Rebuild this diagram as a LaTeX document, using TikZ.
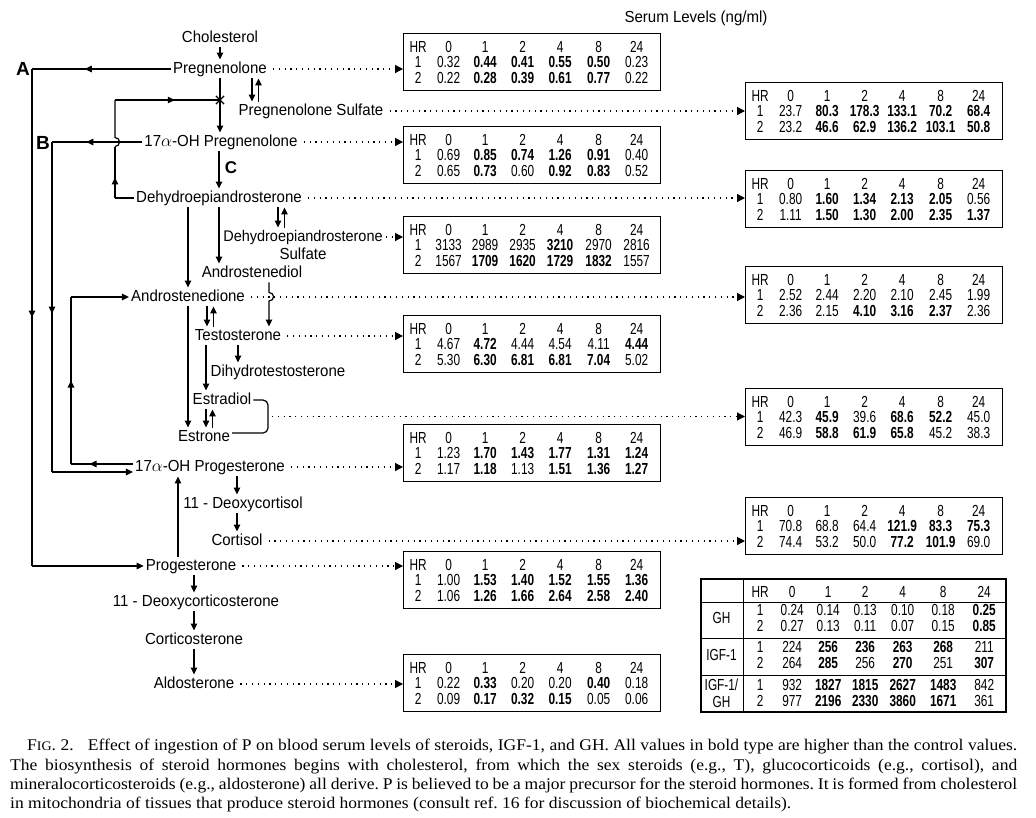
\documentclass[tikz,border=0pt]{standalone}
\usepackage{fontspec}
\setmainfont{Liberation Sans}
\newfontfamily\labfont[FakeStretch=0.94]{Liberation Sans}
\newfontfamily\tabfont[FakeStretch=0.74]{Liberation Sans}
\newfontfamily\capfont[FakeStretch=1.075]{Liberation Serif}
\usetikzlibrary{arrows.meta, calc, decorations.markings, shapes.misc}
\setlength{\parindent}{0pt}

% one row of a serum table: HR column + six sampling times
\newcommand{\trow}[7]{\makebox[26pt]{#1}\makebox[35pt]{#2}\makebox[38pt]{#3}\makebox[37pt]{#4}\makebox[38pt]{#5}\makebox[39pt]{#6}\makebox[37pt]{#7}}
\newcommand{\gtrow}[7]{\makebox[30pt]{#1}\makebox[34pt]{#2}\makebox[38pt]{#3}\makebox[36pt]{#4}\makebox[39pt]{#5}\makebox[42pt]{#6}\makebox[40pt]{#7}}
\newcommand{\hrhead}{\trow{HR}{0}{1}{2}{4}{8}{24}}
\newcommand{\bv}[1]{\textbf{#1}}

\tikzstyle{flow} = [line width=1.2pt, -{Triangle[length=7pt,width=6.5pt]}]
\tikzstyle{dotflow} = [line width=1.2pt, dash pattern=on 1.2pt off 4.6pt, -{Triangle[length=8pt,width=8pt]}, shorten <=4pt]
\tikzset{
  lab/.style={font=\labfont\fontsize{16}{18}\selectfont, inner sep=2pt, text height=11.5pt, text depth=3pt},
  serum/.style={draw, line width=1.3pt, anchor=north west, inner xsep=1.5pt, inner ysep=0pt,
    text width=254pt, minimum height=57pt, align=left, font=\tabfont\fontsize{16}{15.5}\selectfont},
  ghrow/.style={anchor=west, inner sep=0pt, align=left, font=\tabfont\fontsize{16}{15.5}\selectfont},
  ghlab/.style={inner sep=0pt, align=center, font=\tabfont\fontsize{16}{17}\selectfont},
  letter/.style={font=\bfseries\fontsize{19}{20}\selectfont},
  midarrow/.style={postaction={decorate}, decoration={markings,
    mark=at position #1 with {\arrow{Triangle[length=7pt,width=6.5pt]}}}},
}

\begin{document}
\begin{tikzpicture}[x=1pt, y=-1pt]
\useasboundingbox (0,0) rectangle (1036,817);
\fill[white] (0,0) rectangle (1036,817);

\node[lab] (title) at (696,18) {Serum Levels (ng/ml)};

% steroid pathway
\node[lab] (chol) at (220,38) {Cholesterol};
\node[lab] (preg) at (220,69) {Pregnenolone};
\node[lab] (pregs) at (311,111) {Pregnenolone Sulfate};
\node[lab] (ohpreg) at (221,142) {17$\alpha$-OH Pregnenolone};
\node[lab] (dhea) at (219,198) {Dehydroepiandrosterone};
\node[lab, font=\labfont\fontsize{15.4}{18}\selectfont] (dheas) at (303,237) {Dehydroepiandrosterone};
\node[lab] (dheassul) at (303,255) {Sulfate};
\node[lab] (adiol) at (252,273) {Androstenediol};
\node[lab] (adione) at (188,297) {Androstenedione};
\node[lab] (testo) at (238,336) {Testosterone};
\node[lab] (dht) at (278,372) {Dihydrotestosterone};
\node[lab] (e2) at (222,400) {Estradiol};
\node[lab] (e1) at (204,437) {Estrone};
\node[lab] (ohprog) at (210,467) {17$\alpha$-OH Progesterone};
\node[lab] (doc) at (243,504) {11 - Deoxycortisol};
\node[lab] (cort) at (237,541) {Cortisol};
\node[lab] (prog) at (191,566) {Progesterone};
\node[lab] (docs) at (196,602) {11 - Deoxycorticosterone};
\node[lab] (corts) at (194,640) {Corticosterone};
\node[lab] (aldo) at (194,684) {Aldosterone};

\node[letter] (labA) at (23,69) {A};
\node[letter] (labB) at (43,143) {B};
\node[font=\bfseries\fontsize{17}{18}\selectfont] (labC) at (231,168) {C};

\node[cross out, draw, line width=1.2pt, minimum size=7pt, inner sep=0pt] (xmark) at (220,100) {};

% main conversions
\draw[flow] (chol) -- (preg);
\draw[flow] (preg.south) -- (preg.south |- ohpreg.north);
\draw[flow] (ohpreg.south -| dhea.north) -- (dhea.north);
\draw[flow] (dhea.south -| adione.north) -- (adione.north);
\draw[flow] (dhea.south) -- (dhea.south |- adiol.north);
\draw[flow] (adione.south) -- (adione.south |- e1.north);
\draw[flow] (testo.south) -- (testo.south |- dht.north);
\draw[flow] ([xshift=-32pt]testo.south) -- ([xshift=-32pt]testo.south |- e2.north);
\draw[flow] (ohprog.south -| cort.north) -- (doc.north -| cort.north);
\draw[flow] (doc.south -| cort.north) -- (cort.north);
\draw[flow] ([xshift=-13pt]prog.north) -- ([xshift=-13pt]prog.north |- ohprog.south);
\draw[flow] (prog.south -| corts.north) -- (docs.north -| corts.north);
\draw[flow] (docs.south -| corts.north) -- (corts.north);
\draw[flow] (corts) -- (aldo);

% reversible steps
\foreach \a/\b/\s in {preg/pregs/32, dhea/dheas/59, adione/testo/19, e2/e1/-16}{
  \draw[flow] ([xshift=\s pt]\a.south) -- ([xshift=\s pt]\a.south |- \b.north);
  \draw[flow] ([xshift=\s pt+6.5pt]\a.south |- \b.north) -- ([xshift=\s pt+6.5pt]\a.south);
}

% androstenediol to testosterone, hopping the dotted line
\coordinate (hopx) at (269,0);
\draw[flow] (adiol.south -| hopx) -- (269,292.5) .. controls (275,292.5) and (275,301) .. (269,301) -- (testo.north -| hopx);

% feedback from DHEA
\coordinate (fb1) at (115,198);
\coordinate (fb2) at (115,100);
\draw[line width=1.2pt] (dhea.west) -- (fb1);
\draw[line width=1.2pt, midarrow=0.4] (fb1) -- (115,146.5);
\draw[line width=1.2pt] (115,146.5) .. controls (121,146.5) and (121,137.5) .. (115,137.5) -- (fb2);
\draw[line width=1.2pt, midarrow=0.57] (fb2) -- (xmark.center);

% A: pregnenolone to progesterone
\coordinate (A1) at (32,69);
\coordinate (A2) at (32,566);
\draw[line width=1.2pt, midarrow=0.62] (preg.west) -- (A1);
\draw[line width=1.2pt, midarrow=0.5] (A1) -- (A2);
\draw[flow] (A2) -- (prog.west);

% B: 17a-OH pregnenolone to 17a-OH progesterone
\coordinate (B1) at (52,142);
\coordinate (B2) at (52,472);
\draw[line width=1.2pt, midarrow=0.62] (ohpreg.west) -- (B1);
\draw[line width=1.2pt, midarrow=0.52] (B1) -- (B2);
\draw[flow] (B2) -- ([yshift=-5pt]ohprog.west);

% 17a-OH progesterone to androstenedione
\coordinate (D1) at (71,464);
\coordinate (D2) at (71,297);
\draw[line width=1.2pt, midarrow=0.7] ([yshift=3pt]ohprog.west) -- (D1);
\draw[line width=1.2pt, midarrow=0.5] (D1) -- (D2);
\draw[flow] (D2) -- (adione.west);

% estrogen bracket
\coordinate (brk) at (268,416.5);
\draw[line width=1.2pt, rounded corners=5pt] (e2.east) -- (268,400) -- (268,433) -- ([yshift=4pt]e1.east);

% serum tables
\node[serum] (tpreg) at (403,33) {\hrhead\\
  \trow{1}{0.32}{\bv{0.44}}{\bv{0.41}}{\bv{0.55}}{\bv{0.50}}{0.23}\\
  \trow{2}{0.22}{\bv{0.28}}{\bv{0.39}}{\bv{0.61}}{\bv{0.77}}{0.22}};
\node[serum] (tohpreg) at (403,126) {\hrhead\\
  \trow{1}{0.69}{\bv{0.85}}{\bv{0.74}}{\bv{1.26}}{\bv{0.91}}{0.40}\\
  \trow{2}{0.65}{\bv{0.73}}{0.60}{\bv{0.92}}{\bv{0.83}}{0.52}};
\node[serum] (tdheas) at (403,216) {\hrhead\\
  \trow{1}{3133}{2989}{2935}{\bv{3210}}{2970}{2816}\\
  \trow{2}{1567}{\bv{1709}}{\bv{1620}}{\bv{1729}}{\bv{1832}}{1557}};
\node[serum] (ttesto) at (403,315) {\hrhead\\
  \trow{1}{4.67}{\bv{4.72}}{4.44}{4.54}{4.11}{\bv{4.44}}\\
  \trow{2}{5.30}{\bv{6.30}}{\bv{6.81}}{\bv{6.81}}{\bv{7.04}}{5.02}};
\node[serum] (tohprog) at (403,424) {\hrhead\\
  \trow{1}{1.23}{\bv{1.70}}{\bv{1.43}}{\bv{1.77}}{\bv{1.31}}{\bv{1.24}}\\
  \trow{2}{1.17}{\bv{1.18}}{1.13}{\bv{1.51}}{\bv{1.36}}{\bv{1.27}}};
\node[serum] (tprog) at (403,551) {\hrhead\\
  \trow{1}{1.00}{\bv{1.53}}{\bv{1.40}}{\bv{1.52}}{\bv{1.55}}{\bv{1.36}}\\
  \trow{2}{1.06}{\bv{1.26}}{\bv{1.66}}{\bv{2.64}}{\bv{2.58}}{\bv{2.40}}};
\node[serum] (taldo) at (403,654) {\hrhead\\
  \trow{1}{0.22}{\bv{0.33}}{0.20}{0.20}{\bv{0.40}}{0.18}\\
  \trow{2}{0.09}{\bv{0.17}}{\bv{0.32}}{\bv{0.15}}{0.05}{0.06}};
\node[serum] (tpregs) at (745,82) {\hrhead\\
  \trow{1}{23.7}{\bv{80.3}}{\bv{178.3}}{\bv{133.1}}{\bv{70.2}}{\bv{68.4}}\\
  \trow{2}{23.2}{\bv{46.6}}{\bv{62.9}}{\bv{136.2}}{\bv{103.1}}{\bv{50.8}}};
\node[serum] (tdhea) at (745,170) {\hrhead\\
  \trow{1}{0.80}{\bv{1.60}}{\bv{1.34}}{\bv{2.13}}{\bv{2.05}}{0.56}\\
  \trow{2}{1.11}{\bv{1.50}}{\bv{1.30}}{\bv{2.00}}{\bv{2.35}}{\bv{1.37}}};
\node[serum] (tadione) at (745,266) {\hrhead\\
  \trow{1}{2.52}{2.44}{2.20}{2.10}{2.45}{1.99}\\
  \trow{2}{2.36}{2.15}{\bv{4.10}}{\bv{3.16}}{\bv{2.37}}{2.36}};
\node[serum] (te) at (745,388) {\hrhead\\
  \trow{1}{42.3}{\bv{45.9}}{39.6}{\bv{68.6}}{\bv{52.2}}{45.0}\\
  \trow{2}{46.9}{\bv{58.8}}{\bv{61.9}}{\bv{65.8}}{45.2}{38.3}};
\node[serum] (tcort) at (745,497) {\hrhead\\
  \trow{1}{70.8}{68.8}{64.4}{\bv{121.9}}{\bv{83.3}}{\bv{75.3}}\\
  \trow{2}{74.4}{53.2}{50.0}{\bv{77.2}}{\bv{101.9}}{69.0}};

% dotted links to the tables
\draw[dotflow] (preg.east) -- (preg.east -| tpreg.west);
\draw[dotflow] (pregs.east) -- (pregs.east -| tpregs.west);
\draw[dotflow] (ohpreg.east) -- (ohpreg.east -| tohpreg.west);
\draw[dotflow] (dhea.east) -- (dhea.east -| tdhea.west);
\draw[dotflow, shorten <=1pt] (dheas.east) -- (dheas.east -| tdheas.west);
\draw[dotflow] (adione.east) -- (adione.east -| tadione.west);
\draw[dotflow] (testo.east) -- (testo.east -| ttesto.west);
\draw[dotflow] (brk) -- (brk -| te.west);
\draw[dotflow] (ohprog.east) -- (ohprog.east -| tohprog.west);
\draw[dotflow] (cort.east) -- (cort.east -| tcort.west);
\draw[dotflow] (prog.east) -- (prog.east -| tprog.west);
\draw[dotflow] (aldo.east) -- (aldo.east -| taldo.west);

% GH / IGF-1 table
\node[draw, line width=2.4pt, anchor=north west, minimum width=305pt, minimum height=133pt, inner sep=0pt] (ghbox) at (700,578) {};
\draw[line width=1pt] (743,578) -- (743,711);
\draw[line width=1pt] (700,602) -- (1005,602);
\draw[line width=1pt] (700,638) -- (1005,638);
\draw[line width=1pt] (700,675) -- (1005,675);
\node[ghrow] (ghhead) at (745,592) {\gtrow{HR}{0}{1}{2}{4}{8}{24}};
\node[ghrow] (ghgh) at (745,618) {\gtrow{1}{0.24}{0.14}{0.13}{0.10}{0.18}{\bv{0.25}}\\
  \gtrow{2}{0.27}{0.13}{0.11}{0.07}{0.15}{\bv{0.85}}};
\node[ghrow] (ghigf) at (745,655) {\gtrow{1}{224}{\bv{256}}{\bv{236}}{\bv{263}}{\bv{268}}{211}\\
  \gtrow{2}{264}{\bv{285}}{256}{\bv{270}}{251}{\bv{307}}};
\node[ghrow] (ghratio) at (745,693) {\gtrow{1}{932}{\bv{1827}}{\bv{1815}}{\bv{2627}}{\bv{1483}}{842}\\
  \gtrow{2}{977}{\bv{2196}}{\bv{2330}}{\bv{3860}}{\bv{1671}}{361}};
\node[ghlab] (lgh) at (721.5,618) {GH};
\node[ghlab] (ligf) at (721.5,655) {IGF-1};
\node[ghlab] (lratio) at (721.5,693) {IGF-1/\\GH};

% caption
\node[anchor=north west, inner sep=0pt, text width=1007pt, align=justify,
  font=\capfont\fontsize{16.3}{19.4}\selectfont] (caption) at (10,739) {\frenchspacing
  \hspace*{17pt}F{\fontsize{13}{19.4}\selectfont IG}. 2.\hspace{0.6em} Effect of ingestion of P on blood serum levels of steroids, IGF-1, and GH. All values in bold type are higher than the control values.\linebreak
  The biosynthesis of steroid hormones begins with cholesterol, from which the sex steroids (e.g., T), glucocorticoids (e.g., cortisol), and\linebreak
  mineralocorticosteroids (e.g., aldosterone) all derive. P is believed to be a major precursor for the steroid hormones. It is formed from cholesterol\linebreak
  in mitochondria of tissues that produce steroid hormones (consult ref. 16 for discussion of biochemical details).};
\end{tikzpicture}
\end{document}
